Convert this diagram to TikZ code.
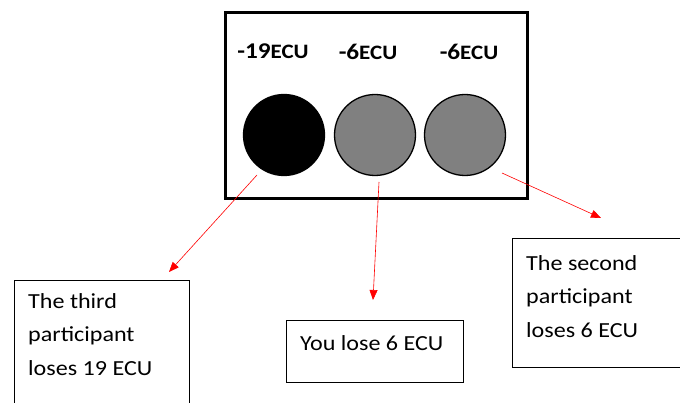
\documentclass[tikz,border=0pt]{standalone}
\usepackage{fontspec}
\setmainfont{Carlito}[FakeStretch=1.12]
\usetikzlibrary{positioning,arrows.meta}
\begin{document}
\begin{tikzpicture}[x=1pt,y=-1pt,
  disc/.style={circle,draw,line width=1.3pt,minimum size=81pt,inner sep=0pt},
  loss/.style={font=\bfseries,inner sep=0pt},
  note/.style={draw,line width=1.2pt,anchor=north west,inner sep=0pt},
  notetext/.style={anchor=north west,align=left,inner sep=0pt,font=\fontsize{21.5}{33.5}\selectfont},
  hint/.style={red,line width=0.6pt,-{Triangle[length=10pt,width=8pt]}}]
\useasboundingbox (0,0) rectangle (680,403);
% the screen with the three players
\node[draw,line width=2.6pt,minimum width=302pt,minimum height=186pt,anchor=north west] (screen) at (224,11) {};
\node[disc,fill=black] (third) at (284,135) {};
\node[disc,fill=gray] (you) at (375,135) {};
\node[disc,fill=gray] (second) at (465,135) {};
\node[loss] (l19) at (273,51) {{\fontsize{22.5}{22}\selectfont -19}{\fontsize{20.5}{20}\selectfont ECU}};
\node[loss] (l6a) at (368,52) {{\fontsize{22.5}{22}\selectfont -6}{\fontsize{20.5}{20}\selectfont ECU}};
\node[loss] (l6b) at (469,52) {{\fontsize{22.5}{22}\selectfont -6}{\fontsize{20.5}{20}\selectfont ECU}};
% explanation boxes
\node[note,minimum width=175pt,minimum height=130pt] (box19) at (14,280) {};
\node[notetext] (txt19) at (28,293) {The third\\participant\\loses 19 ECU};
\node[note,minimum width=177pt,minimum height=62pt] (boxyou) at (286,320) {};
\node[notetext] (txtyou) at (300,335) {You lose 6 ECU};
\node[note,minimum width=200pt,minimum height=129pt] (box6) at (512,238) {};
\node[notetext] (txt6) at (526,255) {The second\\participant\\loses 6 ECU};
% arrows
\coordinate (s19) at (257,175);
\coordinate (e19) at (169,272);
\coordinate (syou) at (379,182);
\coordinate (eyou) at (373,300);
\coordinate (s6) at (502,173);
\coordinate (e6) at (601,218);
\draw[hint] (s19) -- (e19);
\draw[hint] (syou) -- (eyou);
\draw[hint] (s6) -- (e6);
\end{tikzpicture}
\end{document}
